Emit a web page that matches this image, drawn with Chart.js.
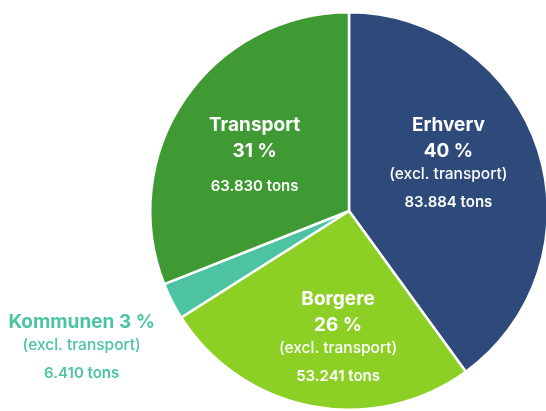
<!DOCTYPE html>
<html>
<head>
<meta charset="utf-8">
<script src="https://cdn.jsdelivr.net/npm/chart.js@4/dist/chart.umd.min.js"></script>
<style>
	html, body { margin: 0; padding: 0; overflow: hidden; background: #fff; }
	#wrap { position: relative; width: 550px; height: 411px; }
</style>
</head>
<body>
<div id="wrap"><canvas id="pie_chart"></canvas></div>
<script>
const categories = ["Erhverv", "Borgere", "Kommunen", "Transport"]
const percents = [40, 26, 3, 31]
const tons = [83884, 53241, 6410, 63830]
const exclTransport = [true, true, true, false]
const colors = ["#2d4a7b", "#8ccf25", "#4cc4a1", "#3f9a33"]

// where each text block sits, in units of the pie radius from the centre
const labelAnchors = [
	{ fx: 0.50, fy: -0.43, inside: true },
	{ fx: -0.055, fy: 0.445, inside: true },
	{ fx: -1.345, fy: 0.56, inside: false },
	{ fx: -0.475, fy: -0.43, inside: true }
]

const fmtTons = (v) => String(v).replace(/\B(?=(\d{3})+(?!\d))/g, ".") + " tons"
const FONT = "Inter, 'Noto Sans', sans-serif"

const sliceLabels = {
	id: "sliceLabels",
	afterDatasetsDraw(chart) {
		const ctx = chart.ctx
		const arcs = chart.getDatasetMeta(0).data
		ctx.save()
		ctx.textAlign = "center"
		ctx.textBaseline = "middle"
		arcs.forEach(function(arc, i) {
			const a = labelAnchors[i]
			const x = arc.x + a.fx * arc.outerRadius
			let y = arc.y + a.fy * arc.outerRadius
			ctx.fillStyle = a.inside ? "#ffffff" : colors[i]
			ctx.font = "700 19px " + FONT
			if (a.inside) {
				ctx.fillText(categories[i], x, y)
				ctx.fillText(percents[i] + " %", x, y + 26)
				y += 26
			} else {
				ctx.fillText(categories[i] + " " + percents[i] + " %", x, y)
			}
			if (exclTransport[i]) {
				ctx.font = "500 15.5px " + FONT
				ctx.fillText("(excl. transport)", x, y + 23)
				y += 23
				ctx.font = "600 15px " + FONT
				ctx.fillText(fmtTons(tons[i]), x, y + 28)
			} else {
				ctx.font = "600 15px " + FONT
				ctx.fillText(fmtTons(tons[i]), x, y + 35)
			}
		})
		ctx.restore()
	}
}

new Chart(document.getElementById("pie_chart").getContext("2d"), {
	type: "pie",
	data: {
		labels: categories,
		datasets: [{
			data: percents,
			backgroundColor: colors,
			borderColor: "#ffffff",
			borderWidth: 2.5
		}]
	},
	options: {
		responsive: true,
		maintainAspectRatio: false,
		animation: false,
		layout: { padding: { left: 148, top: 11, right: 0, bottom: 0 } },
		plugins: {
			legend: { display: false },
			tooltip: { enabled: false }
		}
	},
	plugins: [sliceLabels]
})
</script>
</body>
</html>
